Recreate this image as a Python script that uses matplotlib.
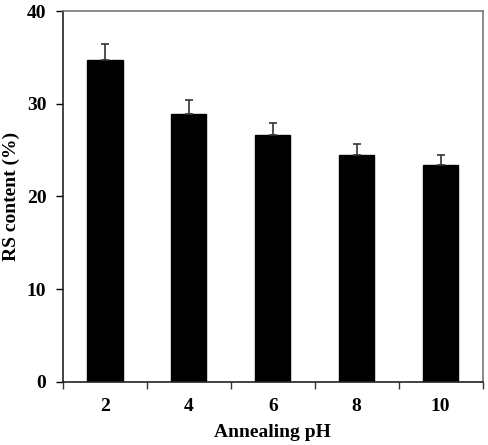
import matplotlib
matplotlib.use("Agg")
import matplotlib.pyplot as plt
import numpy as np

categories = ["2", "4", "6", "8", "10"]
values = [34.7, 28.9, 26.6, 24.5, 23.4]
errors = [1.8, 1.5, 1.3, 1.2, 1.1]

plt.rcParams['font.family'] = ['Liberation Serif', 'DejaVu Serif']
plt.rcParams['font.weight'] = 'bold'

fig = plt.figure(figsize=(4.88, 4.45), dpi=100)
ax = fig.add_axes([0.129, 0.142, 0.860, 0.833])

x = np.arange(len(categories))
ax.bar(x, values, width=0.42, color='black', edgecolor='black', zorder=2)
ax.errorbar(x, values, yerr=[np.zeros(len(errors)), errors], fmt='none',
            ecolor='#333333', elinewidth=1.2, capsize=3, capthick=1.2, zorder=3)

ax.set_xlim(-0.5, len(categories) - 0.5)
ax.set_ylim(0, 40)
ax.set_yticks([0, 10, 20, 30, 40])
ax.set_xticks(x)
ax.set_xticklabels(categories)
ax.set_xticks(np.arange(-0.5, len(categories)), minor=True)
ax.tick_params(axis='x', which='major', length=0, pad=12, labelsize=14)
ax.tick_params(axis='x', which='minor', length=5, width=1, direction='out', color='#333333')
ax.tick_params(axis='y', length=5, width=1, direction='out', labelsize=14, pad=7)

for lbl in ax.get_xticklabels() + ax.get_yticklabels():
    lbl.set_fontweight('bold')

ax.set_xlabel("Annealing pH", fontsize=14, fontweight='bold', labelpad=6)
ax.set_ylabel("RS content (%)", fontsize=14, fontweight='bold', labelpad=5)

for side in ['left', 'bottom']:
    ax.spines[side].set_color('#222222')
    ax.spines[side].set_linewidth(1.2)
for side in ['top', 'right']:
    ax.spines[side].set_color('#777777')
    ax.spines[side].set_linewidth(1.2)

fig.savefig("out.png", dpi=100)
